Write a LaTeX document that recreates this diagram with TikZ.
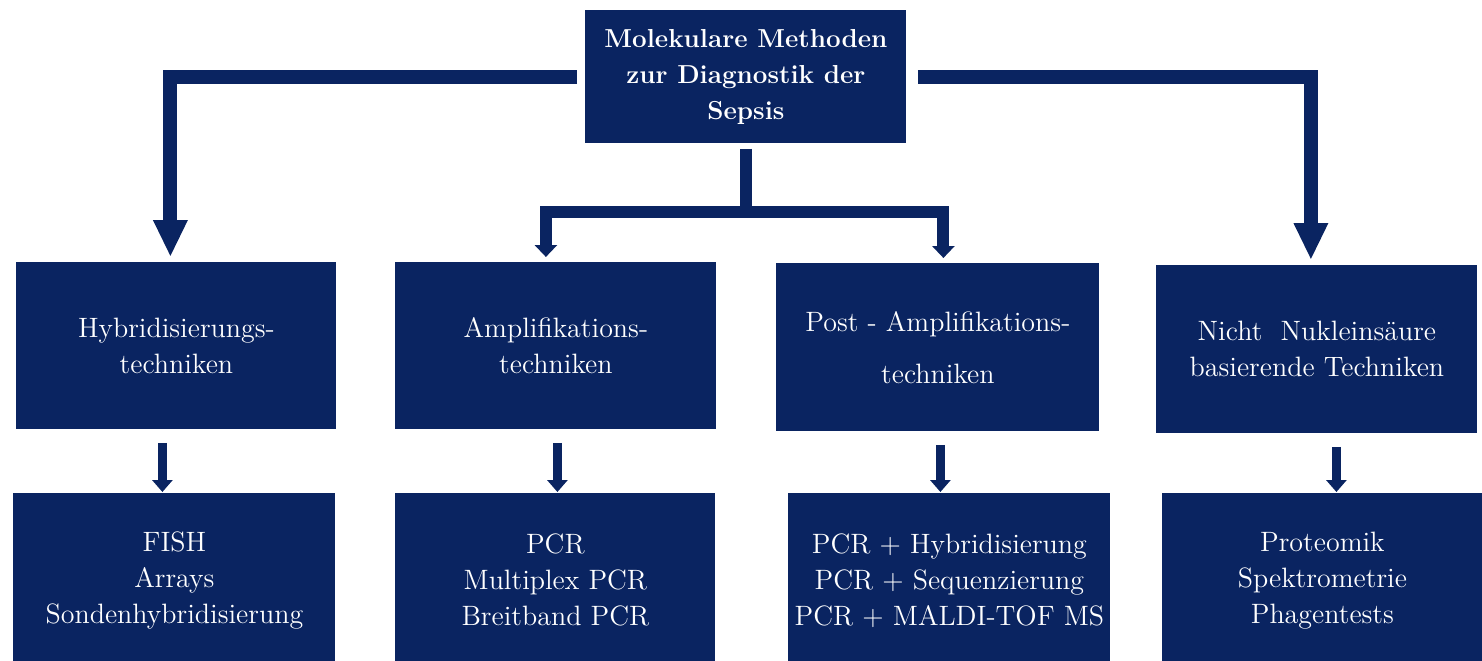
\documentclass[tikz,border=0pt]{standalone}
\usepackage{fontspec}
\usepackage{xcolor}
\usepackage{tikz}
\usetikzlibrary{arrows.meta, positioning, calc}
\definecolor{navy}{RGB}{10,36,97}

\begin{document}
\begin{tikzpicture}[x=1pt, y=1pt]
		\tikzstyle{methodTop}=[fill=navy, text=white, inner sep=0pt, align=center, anchor=north west, font=\fontsize{13}{18}\selectfont\bfseries]
		\tikzstyle{methodA}=[fill=navy, text=white, inner sep=0pt, align=center, anchor=north west, minimum height=83.5pt, font=\fontsize{14}{18}\selectfont]
		\tikzstyle{methodB}=[methodA, minimum height=87pt]
		\tikzstyle{bigArrow}=[draw=navy, line width=7pt, line join=miter, -{Triangle[width=16pt,length=18.5pt]}, shorten >=2.5pt]
		\tikzstyle{midArrow}=[draw=navy, line width=6pt, line join=miter, -{Triangle[width=11pt,length=6pt]}, shorten <=2.5pt, shorten >=2.5pt]
		\tikzstyle{smallArrow}=[draw=navy, line width=4.5pt, -{Triangle[width=10pt,length=6pt]}, shorten <=6.5pt, shorten >=0.5pt]
		
		\useasboundingbox (0,0) rectangle (741,-330);
		
		\node (tmain) at (292.5,-5) [methodTop, minimum width=160.5pt, minimum height=66.5pt] {Molekulare Methoden\\zur Diagnostik der\\Sepsis};
		
		\node (thyb) at (8,-131) [methodA, minimum width=160pt] {Hybridisierungs-\\techniken};
		\node (tamp) at (197.5,-131) [methodA, minimum width=160.5pt] {Amplifikations-\\techniken};
		\node (tpost) at (388,-131.5) [methodA, minimum width=161.5pt, minimum height=84pt] {Post - Amplifikations-\\[8pt]techniken};
		\node (tnon) at (578,-132.5) [methodA, minimum width=160.5pt, minimum height=84pt] {Nicht\ \ Nukleinsäure\\basierende Techniken};
		
		\node (lhyb) at (6.5,-246.5) [methodB, minimum width=161pt] {FISH\\Arrays\\Sondenhybridisierung};
		\node (lamp) at (197.5,-246.5) [methodB, minimum width=160pt] {PCR\\Multiplex PCR\\Breitband PCR};
		\node (lpost) at (394,-246.5) [methodB, minimum width=161pt] {PCR + Hybridisierung\\PCR + Sequenzierung\\PCR + MALDI-TOF MS};
		\node (lnon) at (581,-246.5) [methodB, minimum width=160pt] {Proteomik\\Spektrometrie\\Phagentests};
		
		% top level
		\draw[bigArrow] ([xshift=-4pt]tmain.west) -| ([xshift=-3pt]thyb.north);
		\draw[bigArrow] ([xshift=5.5pt]tmain.east) -| ([xshift=-3pt]tnon.north);
		\draw[midArrow] (tmain.south) -- ++(0,-34) -| ([xshift=-5pt]tamp.north);
		\draw[midArrow] (tmain.south) -- ++(0,-34) -| ([xshift=2.75pt]tpost.north);
		
		% second level
		\draw[smallArrow] ([xshift=-7pt]thyb.south) -- ([xshift=-6pt]lhyb.north);
		\draw[smallArrow] ([xshift=0.75pt]tamp.south) -- ([xshift=1pt]lamp.north);
		\draw[smallArrow] ([xshift=1.25pt]tpost.south) -- ([xshift=-4.5pt]lpost.north);
		\draw[smallArrow] ([xshift=9.75pt]tnon.south) -- ([xshift=7pt]lnon.north);
		
\end{tikzpicture}
\end{document}
